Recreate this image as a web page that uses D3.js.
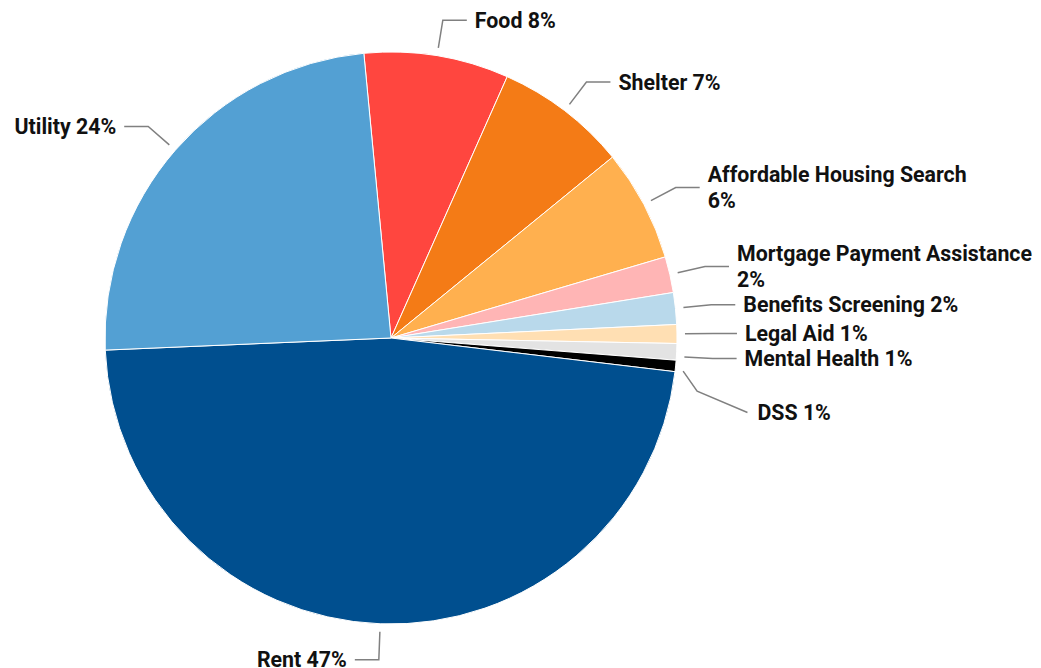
<!DOCTYPE html>
<html>
<head>
<meta charset="utf-8">
<script src="https://cdn.jsdelivr.net/npm/d3@7"></script>
<style>
  html, body { margin: 0; padding: 0; background: #fff; }
  svg { display: block; }
  text.label { font-family: Roboto, "Noto Sans", sans-serif; font-weight: 700; font-size: 21.33px; fill: #111; }
</style>
</head>
<body>
<svg id="chart" width="1041" height="668"></svg>
<script>
// Share of assistance requests by category (percent), clockwise from the top
const categories = [
  "Food", "Shelter", "Affordable Housing Search", "Mortgage Payment Assistance",
  "Benefits Screening", "Legal Aid", "Mental Health", "DSS", "Rent", "Utility"
];
const shares = [8.17, 7.44, 6.32, 2.03, 1.79, 1.06, 0.93, 0.64, 47.43, 24.15];
const colors = [
  "#ff463f", "#f47b16", "#ffb04f", "#ffb5b5", "#b9d9eb",
  "#ffdfb3", "#e3e3e3", "#000000", "#004f8f", "#53a0d3"
];

const width = 1041, height = 668;
const cx = 391, cy = 338, radius = 286;
const startAngle = -5.45 * Math.PI / 180;

const data = categories.map((name, i) => ({ name, value: shares[i], color: colors[i] }));
const total = d3.sum(shares);

const pie = d3.pie().sort(null).value(d => d.value)
  .startAngle(startAngle).endAngle(startAngle + 2 * Math.PI);
const arcs = pie(data);
const arc = d3.arc().innerRadius(0).outerRadius(radius);

const svg = d3.select("#chart");
const g = svg.append("g").attr("transform", `translate(${cx},${cy})`);

g.selectAll("path.slice")
  .data(arcs)
  .join("path")
  .attr("class", "slice")
  .attr("d", arc)
  .attr("fill", d => d.data.color)
  .attr("stroke", "#fff")
  .attr("stroke-width", 1);

// ---- label layout ----
const rStart = radius + 8, rBend = radius + 36, tail = 24, textGap = 8;
const lineH = 26, boxGap = 5, detachDrop = 29, wrapWidth = 280, edgeMargin = 1.5;

const measurer = svg.append("text").attr("class", "label").attr("visibility", "hidden");
const textWidth = s => { measurer.text(s); return measurer.node().getComputedTextLength(); };

const labels = arcs.map(a => {
  const mid = (a.startAngle + a.endAngle) / 2;
  const pct = Math.round(a.data.value / total * 100) + "%";
  const full = a.data.name + " " + pct;
  const lines = textWidth(full) > wrapWidth ? [a.data.name, pct] : [full];
  const side = Math.sin(mid) >= 0 ? 1 : -1;
  const y0 = -Math.cos(mid) * rBend;
  return { a, mid, lines, side, h: lines.length * lineH - 6, y0, y: y0,
           bx: Math.sin(mid) * rBend, detached: false };
});
measurer.remove();

// push overlapping labels downward on each side; a label that moves further
// than its slice allows is dropped one extra row and drawn with a bent leader
[1, -1].forEach(side => {
  const group = labels.filter(l => l.side === side).sort((p, q) => p.y0 - q.y0);
  group.forEach((l, i) => {
    const sy0 = -Math.cos(l.mid) * rStart;
    l.sy = sy0;
    if (i > 0) {
      const prev = group[i - 1];
      const minY = prev.y + (prev.h + l.h) / 2 + boxGap;
      if (l.y < minY) {
        l.y = minY;
        const shift = l.y - l.y0;
        const ya = -Math.cos(l.a.startAngle) * rStart;
        const yb = -Math.cos(l.a.endAngle) * rStart;
        const hi = Math.max(ya, yb) - edgeMargin;
        l.sy = sy0 + shift;
        if (l.sy > hi) {
          l.sy = hi;
          l.detached = true;
          l.y += detachDrop;
        }
      }
    }
    l.sx = side * Math.sqrt(rStart * rStart - l.sy * l.sy);
  });
});

const line = d3.line();
labels.forEach(l => {
  let pts, textX;
  if (l.detached) {
    const endX = l.bx + l.side * (tail + 12);
    pts = [[l.sx, l.sy], [l.sx + l.side * 14, l.sy + 20], [endX, l.y]];
    textX = endX + l.side * (textGap + 2);
  } else {
    const endX = l.bx + l.side * tail;
    pts = [[l.sx, l.sy], [l.bx, l.y], [endX, l.y]];
    textX = endX + l.side * textGap;
  }
  g.append("path")
    .attr("d", line(pts))
    .attr("fill", "none")
    .attr("stroke", "#808080")
    .attr("stroke-width", 1.5);

  const t = g.append("text")
    .attr("class", "label")
    .attr("x", textX)
    .attr("text-anchor", l.side > 0 ? "start" : "end");
  const firstBase = l.y - (l.lines.length - 1) * lineH / 2 + 7.5;
  l.lines.forEach((s, k) => {
    t.append("tspan").attr("x", textX).attr("y", firstBase + k * lineH).text(s);
  });
});
</script>
</body>
</html>
